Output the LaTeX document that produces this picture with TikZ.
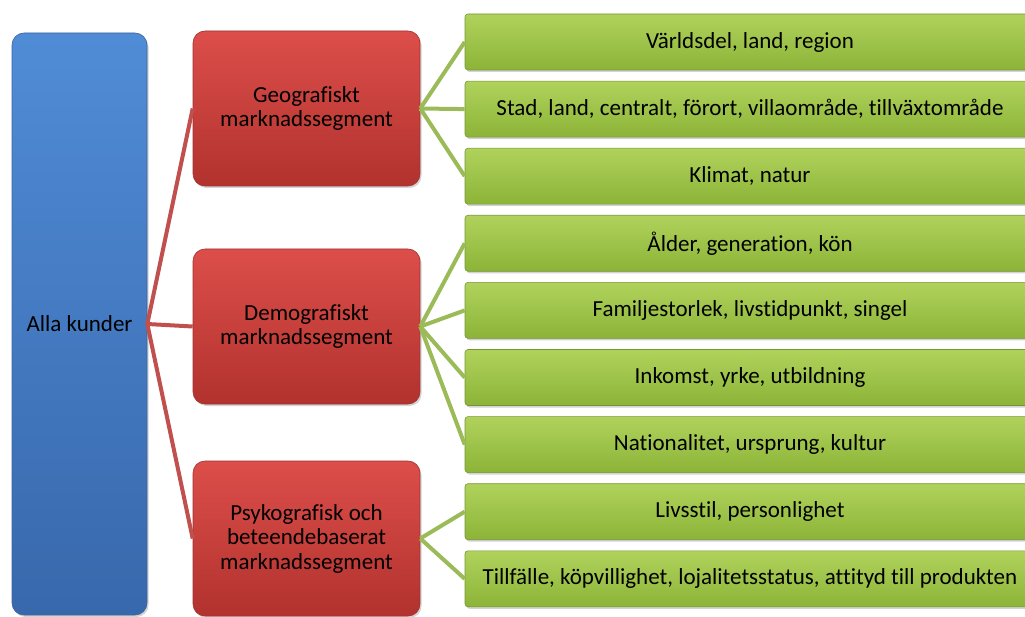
\documentclass[tikz,border=0pt]{standalone}
\usepackage{fontspec}
\setmainfont{Carlito}[Ligatures=NoCommon]
\usepackage{tikz}
\usetikzlibrary{positioning,shadows}
\definecolor{kundtop}{RGB}{80,140,214}
\definecolor{kundbottom}{RGB}{56,104,172}
\definecolor{kundedge}{RGB}{60,100,160}
\definecolor{segtop}{RGB}{220,78,74}
\definecolor{segbottom}{RGB}{178,50,46}
\definecolor{segedge}{RGB}{160,50,46}
\definecolor{segline}{RGB}{192,80,77}
\definecolor{leaftop}{RGB}{176,210,92}
\definecolor{leafbottom}{RGB}{140,180,56}
\definecolor{leafedge}{RGB}{118,150,50}
\definecolor{leafline}{RGB}{155,187,89}
\tikzset
{
    rootnode/.style = {rectangle, rounded corners=12pt, draw=kundedge, line width=0.6pt, top color=kundtop, bottom color=kundbottom, align=center, minimum width=135pt, minimum height=582pt, drop shadow={shadow xshift=1.5pt, shadow yshift=-2pt, opacity=0.35}},
    segnode/.style  = {rectangle, rounded corners=12pt, draw=segedge, line width=0.6pt, top color=segtop, bottom color=segbottom, align=center, minimum width=227pt, minimum height=155pt, drop shadow={shadow xshift=1.5pt, shadow yshift=-2pt, opacity=0.35}},
    leafnode/.style = {rectangle, rounded corners=3pt, draw=leafedge, line width=0.6pt, top color=leaftop, bottom color=leafbottom, align=center, minimum width=570pt, minimum height=56pt, drop shadow={shadow xshift=1.5pt, shadow yshift=-2pt, opacity=0.35}},
    rootlink/.style = {draw=segline, line width=4pt},
    seglink/.style  = {draw=leafline, line width=4pt}
}

\begin{document}
\begin{tikzpicture}[x=1pt, y=-1pt, font=\fontsize{23}{24.5}\selectfont]
    \useasboundingbox (0,0) rectangle (1025,617);

    % all customers
    \node [rootnode] (alla) at (79.5,324) {Alla kunder};

    % segments
    \node [segnode] (geo)   at (306.5,108.5) {Geografiskt \\ marknadssegment};
    \node [segnode] (demo)  at (306.5,326.5) {Demografiskt \\ marknadssegment};
    \node [segnode] (psyko) at (306.5,538.5) {Psykografisk och \\ beteendebaserat \\ marknadssegment};

    % criteria
    \node [leafnode] (varld) at (750,42) {Världsdel, land, region};
    \node [leafnode, below=10.5pt of varld]   (stad)    {Stad, land, centralt, förort, villaområde, tillväxtområde};
    \node [leafnode, below=10.5pt of stad]    (klimat)  {Klimat, natur};
    \node [leafnode, below=10.5pt of klimat]  (alder)   {Ålder, generation, kön};
    \node [leafnode, below=10.5pt of alder]   (familj)  {Familjestorlek, livstidpunkt, singel};
    \node [leafnode, below=10.5pt of familj]  (inkomst) {Inkomst, yrke, utbildning};
    \node [leafnode, below=10.5pt of inkomst] (nation)  {Nationalitet, ursprung, kultur};
    \node [leafnode, below=10.5pt of nation]  (livsstil){Livsstil, personlighet};
    \node [leafnode, below=10.5pt of livsstil](tillf)   {Tillfälle, köpvillighet, lojalitetsstatus, attityd till produkten};

    % links
    \draw [rootlink] (alla.east) -- (geo.west);
    \draw [rootlink] (alla.east) -- (demo.west);
    \draw [rootlink] (alla.east) -- (psyko.west);

    \draw [seglink] (geo.east) -- (varld.west);
    \draw [seglink] (geo.east) -- (stad.west);
    \draw [seglink] (geo.east) -- (klimat.west);

    \draw [seglink] (demo.east) -- (alder.west);
    \draw [seglink] (demo.east) -- (familj.west);
    \draw [seglink] (demo.east) -- (inkomst.west);
    \draw [seglink] (demo.east) -- (nation.west);

    \draw [seglink] (psyko.east) -- (livsstil.west);
    \draw [seglink] (psyko.east) -- (tillf.west);
\end{tikzpicture}
\end{document}
